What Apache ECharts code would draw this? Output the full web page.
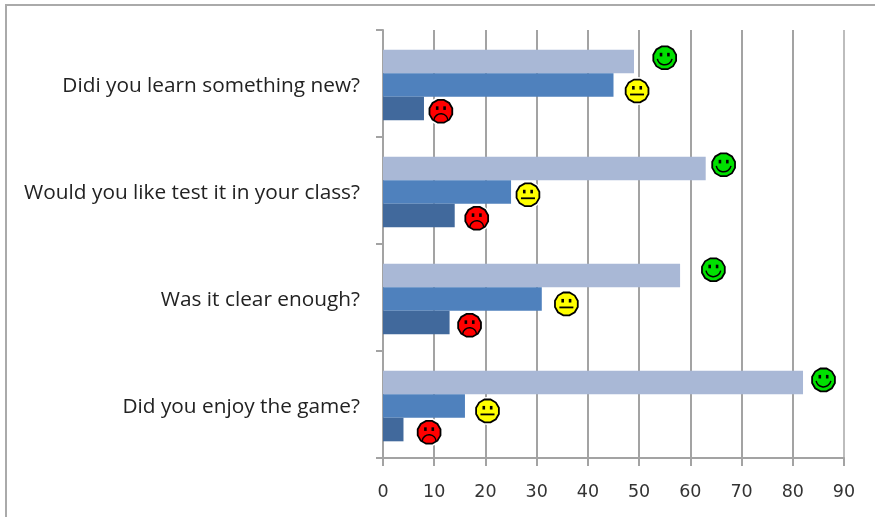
<!DOCTYPE html>
<html>
<head>
<meta charset="utf-8">
<style>html,body{margin:0;padding:0;background:#fff}#chart{width:875px;height:517px}</style>
<script src="https://cdn.jsdelivr.net/npm/echarts@6/dist/echarts.min.js"></script>
</head>
<body>
<div id="chart"></div>
<script>
// Survey answers per question, top row first
const questions = ['Didi you learn something new?', 'Would you like test it in your class?', 'Was it clear enough?', 'Did you enjoy the game?'];
const positive = [49, 63, 58, 82];
const neutral = [45, 25, 31, 16];
const negative = [8, 14, 13, 4];

// Smiley markers: horizontal position on the value scale, vertical position in question rows
const happyX = [55, 66.5, 64.5, 86];
const happyRow = [0.26, 1.26, 2.24, 3.27];
const plainX = [49.6, 28.3, 35.8, 20.4];
const plainRow = [0.57, 1.54, 2.56, 3.56];
const sadX = [11.3, 18.3, 16.9, 9];
const sadRow = [0.76, 1.76, 2.76, 3.76];

const xTicks = { min: 0, max: 90, interval: 10 };
const axisGray = '#a3a3a3';
const gridColors = [axisGray, axisGray, axisGray, axisGray, axisGray, axisGray, axisGray, axisGray, axisGray, '#bdbdbd'];

// Rounded face with a white halo, black rim, eyes and a mood-specific mouth
function face(mood, fill) {
  return function (params, api) {
    const c = api.coord([api.value(0), api.value(1)]);
    const x = c[0], y = c[1];
    const line = { stroke: '#000', fill: 'none', lineWidth: 1.5 };
    const children = [
      { type: 'circle', shape: { cx: x, cy: y, r: 14 }, style: { fill: '#fff' } },
      { type: 'polygon', shape: { points: outline(x, y, 11.8) }, style: { fill: fill, stroke: '#000', lineWidth: 1.8 } },
      { type: 'rect', shape: { x: x - 5, y: y - 5, width: 2.6, height: 3.6 }, style: { fill: '#000' } },
      { type: 'rect', shape: { x: x + 2.4, y: y - 5, width: 2.6, height: 3.6 }, style: { fill: '#000' } }
    ];
    if (mood === 'happy') {
      children.push({ type: 'arc', shape: { cx: x, cy: y - 0.5, r: 7.5, startAngle: 0.2, endAngle: Math.PI - 0.2 }, style: line });
    } else if (mood === 'plain') {
      children.push({ type: 'line', shape: { x1: x - 7, y1: y + 3.5, x2: x + 7, y2: y + 3.5 }, style: { stroke: '#000', lineWidth: 1.8 } });
    } else {
      children.push({ type: 'arc', shape: { cx: x, cy: y + 9.5, r: 7, startAngle: Math.PI + 0.1, endAngle: -0.1 }, style: line });
    }
    return { type: 'group', children: children };
  };
}

function outline(x, y, r) {
  const pts = [];
  for (let i = 0; i < 12; i++) {
    const a = Math.PI / 12 + i * Math.PI / 6;
    pts.push([x + r * Math.cos(a), y + r * Math.sin(a)]);
  }
  return pts;
}

// Bars sit on their own hidden axes, nudged slightly below the tick bands
function barSeries(data, color) {
  return {
    type: 'bar', data: data, xAxisIndex: 1, yAxisIndex: 2,
    barGap: 0, barCategoryGap: '34%', z: 3,
    itemStyle: { color: color }
  };
}

function faceSeries(xs, rows, mood, fill) {
  return {
    type: 'custom', xAxisIndex: 0, yAxisIndex: 1, z: 5, clip: false,
    encode: { x: 0, y: 1 },
    data: xs.map((v, i) => [v, rows[i]]),
    renderItem: face(mood, fill)
  };
}

const chart = echarts.init(document.getElementById('chart'));
chart.setOption({
  animation: false,
  backgroundColor: '#fff',
  graphic: [{
    type: 'polyline', silent: true,
    shape: { points: [[6, 518], [6, 5], [876, 5]] },
    style: { stroke: '#aaaaaa', lineWidth: 2, fill: 'none' }
  }],
  grid: [
    { left: 383, right: 31, top: 30, bottom: 59 },
    { left: 383, right: 31, top: 31.5, bottom: 57.5 }
  ],
  xAxis: [{
    type: 'value', gridIndex: 0, min: xTicks.min, max: xTicks.max, interval: xTicks.interval,
    axisLine: { show: true, onZero: false, lineStyle: { color: axisGray, width: 2 } },
    axisTick: { show: true, length: 8, lineStyle: { color: axisGray, width: 2 } },
    splitLine: { show: true, lineStyle: { color: gridColors, width: 2 } },
    axisLabel: { color: '#333', fontFamily: 'DejaVu Sans', fontSize: 17.5, margin: 25 }
  }, {
    type: 'value', gridIndex: 1, min: xTicks.min, max: xTicks.max, show: false, splitLine: { show: false }
  }],
  yAxis: [{
    type: 'category', gridIndex: 0, data: questions, inverse: true,
    axisLine: { show: true, onZero: false, lineStyle: { color: axisGray, width: 2 } },
    axisTick: { show: true, length: 7, lineStyle: { color: axisGray, width: 2 } },
    splitLine: { show: false },
    axisLabel: { color: '#222', fontFamily: 'Open Sans', fontSize: 20.8, margin: 23, verticalAlign: 'top', lineHeight: 6 }
  }, {
    type: 'value', gridIndex: 0, min: 0, max: 4, inverse: true, show: false, splitLine: { show: false }
  }, {
    type: 'category', gridIndex: 1, data: questions, inverse: true, show: false
  }],
  series: [
    barSeries(positive, '#a9b8d6'),
    barSeries(neutral, '#4f81bd'),
    barSeries(negative, '#41699c'),
    faceSeries(happyX, happyRow, 'happy', '#00e000'),
    faceSeries(plainX, plainRow, 'plain', '#ffff00'),
    faceSeries(sadX, sadRow, 'sad', '#ff0000')
  ]
});
</script>
</body>
</html>
